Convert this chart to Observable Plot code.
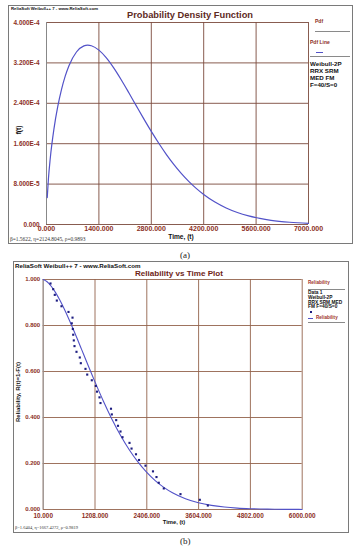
<!DOCTYPE html>
<html>
<head>
<meta charset="utf-8">
<script src="https://cdn.jsdelivr.net/npm/d3@7"></script>
<script src="https://cdn.jsdelivr.net/npm/@observablehq/plot@0.6"></script>
<style>
  html, body { margin: 0; padding: 0; background: #fff; }
  #root { position: relative; width: 361px; height: 550px; overflow: hidden; font-family: "Liberation Sans", Arial, sans-serif; }
  .t { position: absolute; white-space: nowrap; line-height: 1; }
  .frame { position: absolute; border: 1px solid #7a7a7a; box-sizing: border-box; }
  .hl { position: absolute; height: 0; border-top: 1px solid #8a8a8a; }
</style>
</head>
<body>
<div id="root"></div>
<script>
// ---------- Panel (a): Weibull pdf ----------
const pdfTime = [20, 50, 100, 200, 300, 400, 500, 600, 800, 1000, 1100, 1200, 1400, 1600, 1800, 2000, 2200, 2400, 2600, 2800, 3000, 3200, 3400, 3600, 3800, 4000, 4200, 4500, 4800, 5100, 5400, 5700, 6000, 6500, 7000];
const pdfValue = [5.33e-5, 8.90e-5, 1.308e-4, 1.900e-4, 2.334e-4, 2.671e-4, 2.937e-4, 3.144e-4, 3.416e-4, 3.537e-4, 3.552e-4, 3.540e-4, 3.453e-4, 3.299e-4, 3.096e-4, 2.861e-4, 2.608e-4, 2.349e-4, 2.092e-4, 1.843e-4, 1.608e-4, 1.390e-4, 1.191e-4, 1.013e-4, 8.54e-5, 7.15e-5, 5.94e-5, 4.44e-5, 3.27e-5, 2.37e-5, 1.70e-5, 1.20e-5, 8.3e-6, 4.45e-6, 2.3e-6];
const pdfXTicks = [0, 1400, 2800, 4200, 5600, 7000];
const pdfYTicks = [0, 8e-5, 1.6e-4, 2.4e-4, 3.2e-4, 4e-4];
const pdfLegend = ["Weibull-2P", "RRX SRM", "MED FM", "F=40/S=0"];

// ---------- Panel (b): Reliability ----------
const relCurveTime = [10, 100, 200, 300, 400, 500, 600, 700, 800, 900, 1000, 1100, 1200, 1400, 1600, 1800, 2000, 2200, 2400, 2600, 2800, 3000, 3300, 3600, 3900, 4200, 4500, 4800, 5200, 5600, 6000];
const relCurveValue = [0.9998, 0.9902, 0.9696, 0.9418, 0.9083, 0.8705, 0.8294, 0.7860, 0.7410, 0.6951, 0.6490, 0.6032, 0.5582, 0.4720, 0.3927, 0.3218, 0.2598, 0.2069, 0.1625, 0.1259, 0.0963, 0.0727, 0.0467, 0.0292, 0.0178, 0.0106, 0.0061, 0.0035, 0.0016, 0.0007, 0.0003];
const relDataTime = [179, 241, 278, 325, 433, 595, 688, 671, 695, 704, 718, 734, 780, 856, 880, 988, 1028, 1134, 1227, 1254, 1312, 1335, 1578, 1597, 1698, 1740, 1798, 1844, 2006, 2053, 2156, 2226, 2376, 2549, 2630, 2683, 2799, 3185, 3632, 3817];
const relDataValue = [0.9827, 0.9579, 0.9332, 0.9084, 0.8837, 0.8589, 0.8342, 0.8094, 0.7847, 0.7599, 0.7351, 0.7104, 0.6856, 0.6609, 0.6361, 0.6114, 0.5866, 0.5619, 0.5371, 0.5124, 0.4876, 0.4629, 0.4381, 0.4134, 0.3886, 0.3639, 0.3391, 0.3144, 0.2896, 0.2649, 0.2401, 0.2153, 0.1906, 0.1658, 0.1411, 0.1163, 0.0916, 0.0668, 0.0421, 0.0173];
const relXTicks = [10, 1208, 2406, 3604, 4802, 6000];
const relYTicks = [0, 0.2, 0.4, 0.6, 0.8, 1.0];
const relLegend = ["Data 1", "Weibull-2P", "RRX SRM MED", "FM F=40/S=0"];

const root = document.getElementById("root");
const tickColor = "#8c2f1e";
const curveColor = "#5252c8";

function txt(s, x, y, o = {}) {
  const d = document.createElement("div");
  d.className = "t";
  d.textContent = s;
  d.style.left = x + "px";
  d.style.top = y + "px";
  d.style.fontSize = (o.size || 6) + "px";
  d.style.fontWeight = o.weight || "bold";
  d.style.color = o.color || "#111";
  if (o.family) d.style.fontFamily = o.family;
  const ax = o.anchor === "middle" ? "-50%" : o.anchor === "end" ? "-100%" : "0";
  d.style.transform = `translate(${ax},-50%)` + (o.rotate ? ` rotate(${o.rotate}deg)` : "");
  root.appendChild(d);
  return d;
}
function box(cls, l, t, w, h, extra = {}) {
  const d = document.createElement("div");
  d.className = cls;
  Object.assign(d.style, { left: l + "px", top: t + "px", width: w + "px" }, h != null ? { height: h + "px" } : {}, extra);
  root.appendChild(d);
  return d;
}

// frames
box("frame", 8, 5, 345, 239);
box("frame", 13, 261, 336, 272);

const fmtE = d => d === 0 ? "0.000" : d.toExponential(3).replace("e", "E").replace("+", "");

// ---- plot (a)
const dataA = pdfTime.map((t, i) => ({ t, f: pdfValue[i] }));
const gridA = "#7a4a3c";
const plotA = Plot.plot({
  width: 361, height: 250,
  marginLeft: 46, marginRight: 53, marginTop: 22, marginBottom: 26,
  x: { domain: [0, 7000] },
  y: { domain: [0, 4e-4] },
  style: { position: "absolute", left: "0px", top: "0px", background: "transparent", overflow: "visible", fontFamily: "Liberation Sans, Arial, sans-serif", fontWeight: "bold" },
  marks: [
    Plot.gridX(pdfXTicks, { stroke: gridA, strokeOpacity: 1, strokeWidth: 0.9 }),
    Plot.gridY(pdfYTicks, { stroke: gridA, strokeOpacity: 1, strokeWidth: 0.9 }),
    Plot.ruleX([0], { stroke: "#888", strokeWidth: 1 }),
    Plot.line(dataA, { x: "t", y: "f", stroke: curveColor, strokeWidth: 1.2, curve: "monotone-x" }),
    Plot.axisX(pdfXTicks, { tickSize: 0, tickPadding: 1.5, tickFormat: d3.format(".3f"), fontSize: 7, fill: tickColor, label: null }),
    Plot.axisY(pdfYTicks, { tickSize: 0, tickPadding: 7, tickFormat: fmtE, fontSize: 6.4, fill: tickColor, label: null })
  ]
});
root.appendChild(plotA);

txt("ReliaSoft Weibull++ 7 - www.ReliaSoft.com", 11, 9, { size: 4.3 });
txt("Probability Density Function", 190, 16, { size: 9.3, anchor: "middle", color: "#5e2a1e" });
txt("f(t)", 19, 130, { size: 6.5, anchor: "middle", rotate: -90 });
txt("Time, (t)", 181, 236.5, { size: 6.6, anchor: "middle" });
txt("β=1.5622, η=2124.8045, ρ=0.9893", 10, 239.5, { size: 5.4, weight: "normal", family: "Liberation Serif, serif", color: "#333" });
txt("(a)", 180, 255, { size: 9, weight: "normal", family: "Liberation Serif, serif", color: "#222" });
// legend (a)
txt("Pdf", 315, 21, { size: 5, color: "#8c2f1e" });
box("hl", 315, 30.5, 35);
txt("Pdf Line", 310, 42, { size: 5, color: "#8c2f1e" });
box("hl", 316, 51.5, 7, null, { borderTop: "1px solid " + curveColor });
box("hl", 310, 55.5, 40);
pdfLegend.forEach((s, i) => txt(s, 310, 63.5 + i * 7.3, { size: 6.2 }));

// ---- plot (b)
const curveB = relCurveTime.map((t, i) => ({ t, r: relCurveValue[i] }));
const ptsB = relDataTime.map((t, i) => ({ t, r: relDataValue[i] }));
const gridB = "#93634c";
const plotB = Plot.plot({
  width: 361, height: 300,
  marginLeft: 42.7, marginRight: 59.3, marginTop: 29, marginBottom: 41,
  x: { domain: [10, 6000] },
  y: { domain: [0, 1] },
  style: { position: "absolute", left: "0px", top: "250px", background: "transparent", overflow: "visible", fontFamily: "Liberation Sans, Arial, sans-serif", fontWeight: "bold" },
  marks: [
    Plot.gridX(relXTicks, { stroke: gridB, strokeOpacity: 1, strokeWidth: 0.9 }),
    Plot.gridY(relYTicks, { stroke: gridB, strokeOpacity: 1, strokeWidth: 0.9 }),
    Plot.ruleX([10], { stroke: "#999", strokeWidth: 1 }),
    Plot.line(curveB, { x: "t", y: "r", stroke: curveColor, strokeWidth: 1.1, curve: "monotone-x" }),
    Plot.dot(ptsB, { x: "t", y: "r", symbol: "square", r: 1.2, fill: "#1d1d80", stroke: "none" }),
    Plot.axisX(relXTicks, { tickSize: 0, tickPadding: 3.5, tickFormat: d3.format(".3f"), fontSize: 6.4, fill: tickColor, label: null }),
    Plot.axisY(relYTicks, { tickSize: 0, tickPadding: 3, tickFormat: d3.format(".3f"), fontSize: 6, fill: tickColor, label: null })
  ]
});
root.appendChild(plotB);

txt("ReliaSoft Weibull++ 7 - www.ReliaSoft.com", 15, 265.5, { size: 6.2 });
txt("Reliability vs Time Plot", 179, 274, { size: 8.1, anchor: "middle", color: "#6e2418" });
txt("Reliability, R(t)=1-F(t)", 18, 392, { size: 6, anchor: "middle", rotate: -90 });
txt("Time, (t)", 174, 522.5, { size: 5.8, anchor: "middle" });
txt("β=1.6404, η=1667.4272, ρ=0.9819", 15, 527.5, { size: 4.5, weight: "normal", family: "Liberation Serif, serif", color: "#333" });
txt("(b)", 180, 541, { size: 9, weight: "normal", family: "Liberation Serif, serif", color: "#222" });
// legend (b)
txt("Reliability", 308, 282.5, { size: 4.6, color: "#a0352a" });
box("hl", 308, 288.5, 37);
relLegend.forEach((s, i) => txt(s, 308, 293.3 + i * 4.7, { size: 4.8 }));
box("hl", 310, 311, 2, 2, { borderTop: "none", background: "#1d1d80" });
box("hl", 308, 317.5, 5, null, { borderTop: "1px solid " + curveColor });
txt("Reliability", 316, 318, { size: 4.6, color: "#a0352a" });
box("hl", 308, 322, 37);
</script>
</body>
</html>
